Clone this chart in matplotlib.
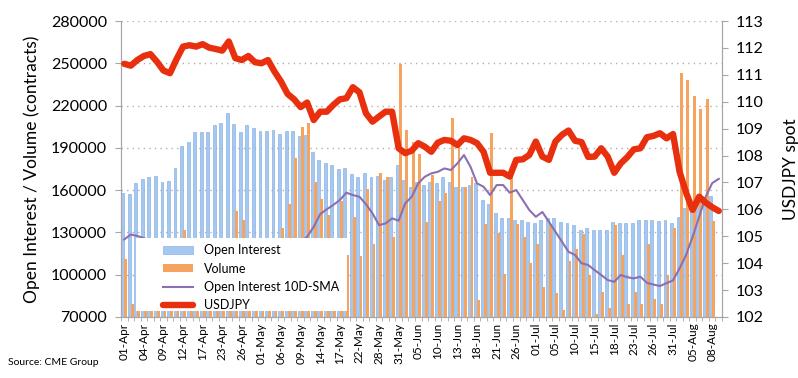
import matplotlib
matplotlib.use("Agg")
import matplotlib.pyplot as plt
from matplotlib.patches import Patch, Rectangle
from matplotlib.lines import Line2D
import numpy as np

# tick labels, one every 3 trading days (01-Apr .. 08-Aug)
X_LABELS = ["01-Apr", "04-Apr", "09-Apr", "12-Apr", "17-Apr", "23-Apr", "26-Apr",
            "01-May", "06-May", "09-May", "14-May", "17-May", "22-May", "28-May",
            "31-May", "05-Jun", "10-Jun", "13-Jun", "18-Jun", "21-Jun", "26-Jun",
            "01-Jul", "05-Jul", "10-Jul", "15-Jul", "18-Jul", "23-Jul", "26-Jul",
            "31-Jul", "05-Aug", "08-Aug"]
N_DAYS = 92

open_interest = [158000, 157000, 165000, 168000, 169000, 170000, 166000, 166500, 176000, 191000,
                 194500, 201000, 201500, 201000, 206000, 207500, 214500, 207000, 201000, 206000,
                 204000, 202000, 202000, 202500, 200000, 202000, 202000, 198500, 199000, 187000,
                 181500, 179000, 178000, 175000, 175500, 171500, 169500, 172000, 169500, 170000,
                 167000, 169500, 178000, 167000, 162500, 166000, 163500, 166000, 165000, 169500,
                 166000, 162500, 162500, 163500, 165000, 153000, 150500, 143500, 140000, 140000,
                 139000, 139000, 137500, 136500, 139000, 140000, 140000, 137500, 136500, 135000,
                 132000, 133000, 131500, 131500, 132000, 137500, 136500, 137000, 137000, 139000,
                 139000, 139000, 138000, 139000, 136500, 141000, 147000, 150000, 152000, 155000,
                 155500]

volume = [111000, 79000, 100000, 95000, 105000, 98000, 110000, 90000, 115000, 132000,
          100000, 108000, 95000, 112000, 104000, 99000, 118000, 145000, 139000, 105000,
          110000, 96000, 120000, 108000, 133000, 150000, 183000, 205000, 207500, 166000,
          153500, 142500, 125000, 152000, 114000, 141000, 113000, 161000, 122000, 172000,
          169000, 127000, 249500, 203000, 194500, 186000, 137500, 170500, 152000, 158000,
          211500, 191000, 162500, 169500, 82000, 136000, 200500, 129500, 100500, 169500,
          136000, 126500, 108500, 121500, 91500, 136000, 87000, 75000, 110000, 118000,
          129000, 99800, 72000, 88000, 76500, 135000, 114000, 79000, 88000, 79000,
          122000, 83000, 79000, 100000, 133000, 243000, 238000, 226500, 217500, 225000,
          138000]

oi_sma = [125000, 128500, 127500, 126000, 124000, 122000, 121000, 120000, 119000, 118000,
          117500, 117000, 116500, 116000, 116000, 116500, 117000, 117500, 118000, 118500,
          119000, 119500, 120000, 120500, 121000, 121500, 122000, 123000, 127000, 134000,
          143000, 146400, 149500, 153000, 158200, 156500, 155300, 150000, 143500, 135200,
          136400, 140000, 138300, 150600, 155300, 164800, 169500, 171900, 173000, 175400,
          174300, 179000, 184900, 176600, 164800, 162400, 156500, 163600, 163600, 158200,
          160100, 153000, 145900, 141100, 144500, 137600, 130500, 123400, 116300, 114000,
          108100, 106900, 103300, 99800, 96200, 95000, 99800, 98200, 97400, 98600,
          94300, 93000, 92000, 94000, 96000, 104500, 114000, 127000, 141100, 155300,
          165000, 168000]

usdjpy = [111.41, 111.34, 111.55, 111.70, 111.77, 111.49, 111.16, 111.06, 111.58, 112.05,
          112.10, 112.05, 112.14, 112.01, 111.96, 111.90, 112.24, 111.62, 111.55, 111.70,
          111.47, 111.43, 111.55, 111.12, 110.75, 110.29, 110.09, 109.80, 109.97, 109.32,
          109.63, 109.63, 109.88, 110.09, 110.13, 110.54, 110.35, 109.57, 109.26, 109.45,
          109.63, 109.63, 108.27, 108.09, 108.18, 108.46, 108.33, 108.14, 108.48, 108.58,
          108.55, 108.39, 108.64, 108.58, 108.46, 108.14, 107.36, 107.36, 107.36, 107.22,
          107.84, 107.86, 108.02, 108.52, 107.96, 107.84, 108.52, 108.77, 108.93, 108.55,
          108.50, 107.95, 107.96, 108.27, 107.96, 107.36, 107.71, 107.94, 108.23, 108.27,
          108.68, 108.73, 108.83, 108.64, 108.80, 107.40, 106.62, 105.98, 106.47, 106.25,
          106.08, 105.94]

BLUE = "#a5c8f0"
BLUE_EDGE = "#79a8e0"
ORANGE = "#f4a45e"
PURPLE = "#8a70b2"
RED = "#e8300e"
GRAY = "#a6a6a6"
FONT = "Lato"


def main():
    plt.rcParams["font.family"] = [FONT, "DejaVu Sans"]

    fig = plt.figure(figsize=(7.98, 3.78), dpi=100)
    ax = fig.add_axes([0.1516, 0.1614, 0.7532, 0.783])
    ax2 = ax.twinx()

    x_bar = np.arange(len(open_interest))
    x_line = np.arange(N_DAYS)
    bar_w = 0.44

    # bars start from the axis floor (70000), like the Excel original
    ax.bar(x_bar - 0.23, np.array(open_interest) - 70000, bottom=70000, width=bar_w,
           color=BLUE, edgecolor=BLUE_EDGE, linewidth=0.4, zorder=2)
    ax.bar(x_bar + 0.23, np.array(volume) - 70000, bottom=70000, width=bar_w,
           color=ORANGE, linewidth=0, zorder=2)
    ax.plot(x_line, oi_sma, color=PURPLE, lw=1.5, zorder=3)

    ax2.plot(x_line, usdjpy, color=RED, lw=4.6, solid_joinstyle="round",
             solid_capstyle="round", zorder=3)

    ax.set_xlim(-0.5, N_DAYS - 0.5)
    ax.set_ylim(70000, 280000)
    ax.set_yticks(np.arange(70000, 280001, 30000))
    ax2.set_ylim(102, 113)
    ax2.set_yticks(np.arange(102, 114, 1))

    ax.grid(axis="y", linestyle=(0, (1, 3)), color="#b0b0b0", lw=1.0, zorder=0)
    ax.set_axisbelow(True)

    ax.set_xticks(np.arange(0, 3 * len(X_LABELS), 3))
    ax.set_xticklabels(X_LABELS, rotation=90, fontsize=8.5)
    ax.set_xticks(np.arange(-0.5, N_DAYS, 1), minor=True)
    ax.tick_params(axis="x", which="major", length=0, pad=4)
    ax.tick_params(axis="x", which="minor", length=3, color=GRAY)
    ax.tick_params(axis="y", labelsize=11.5, length=4, color=GRAY, pad=6)
    ax2.tick_params(axis="y", labelsize=11.5, length=4, color=GRAY, pad=6)

    for a in (ax, ax2):
        a.spines["top"].set_visible(False)
        for side in ("left", "right", "bottom"):
            a.spines[side].set_color(GRAY)

    ax.set_ylabel("Open Interest / Volume (contracts)", fontsize=12.5, labelpad=8)
    ax2.set_ylabel("USDJPY spot", fontsize=12.5, labelpad=14)

    # white legend box sitting over the bars in the lower left
    ax2.add_patch(Rectangle((0.025, 0.02), 0.351, 0.247, transform=ax2.transAxes,
                            facecolor="white", edgecolor="none", zorder=8))

    handles = [Patch(facecolor=BLUE, edgecolor=BLUE_EDGE, lw=0.4),
               Patch(facecolor=ORANGE),
               Line2D([], [], color=PURPLE, lw=1.5),
               Line2D([], [], color=RED, lw=4.6, solid_capstyle="round")]
    labels = ["Open Interest", "Volume", "Open Interest 10D-SMA", "USDJPY"]
    leg = ax2.legend(handles, labels, loc="upper left",
                     bbox_to_anchor=(0.07, 0.245), frameon=False,
                     fontsize=9, handlelength=2.4, handleheight=0.6,
                     handletextpad=0.9, labelspacing=0.5, borderpad=0,
                     borderaxespad=0)
    leg.set_zorder(10)

    fig.text(0.01, 0.035, "Source: CME Group", fontsize=7.5)

    fig.savefig("out.png", dpi=100)
    plt.close(fig)


if __name__ == "__main__":
    main()
